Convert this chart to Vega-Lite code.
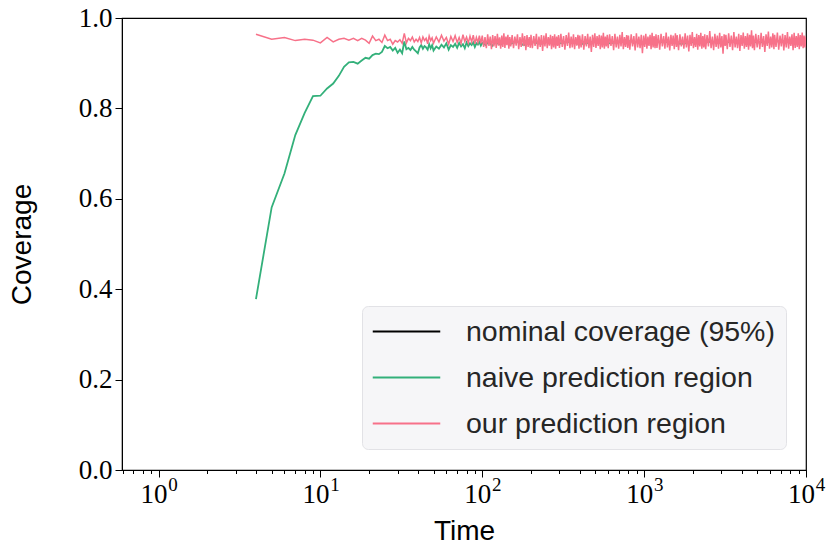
{
  "$schema": "https://vega.github.io/schema/vega-lite/v6.json",
  "width": 684,
  "height": 452,
  "autosize": {"type": "none"},
  "padding": {"left": 122, "top": 18, "right": 24, "bottom": 82},
  "background": "white",
  "config": {
    "view": {"stroke": "#000", "strokeWidth": 1.2},
    "axis": {"grid": false, "domainColor": "#000", "tickColor": "#000", "labelColor": "#000", "titleColor": "#000"}
  },
  "resolve": {"axis": {"x": "independent"}},
  "datasets": {
    "naive": [
      {"t":4,"c":0.378},{"t":5,"c":0.581},{"t":6,"c":0.656},{"t":7,"c":0.741},{"t":8,"c":0.790},{"t":9,"c":0.827},{"t":10,"c":0.828},
      {"t":11,"c":0.844},{"t":12,"c":0.855},{"t":13,"c":0.872},{"t":14,"c":0.892},{"t":15,"c":0.902},{"t":16,"c":0.903},{"t":17,"c":0.899},
      {"t":18,"c":0.906},{"t":19,"c":0.912},{"t":20,"c":0.910},{"t":21,"c":0.918},{"t":22,"c":0.921},{"t":23,"c":0.920},{"t":24,"c":0.925},
      {"t":25,"c":0.938},{"t":26,"c":0.933},{"t":27,"c":0.936},{"t":28,"c":0.928},{"t":29,"c":0.934},{"t":30,"c":0.923},{"t":31,"c":0.930},
      {"t":32,"c":0.922},{"t":33,"c":0.948},{"t":34,"c":0.931},{"t":35,"c":0.934},{"t":36,"c":0.929},{"t":37,"c":0.936},{"t":38,"c":0.930},
      {"t":39,"c":0.926},{"t":40,"c":0.922},{"t":41,"c":0.935},{"t":42,"c":0.940},{"t":43,"c":0.932},{"t":44,"c":0.938},{"t":45,"c":0.935},
      {"t":46,"c":0.930},{"t":47,"c":0.942},{"t":48,"c":0.933},{"t":49,"c":0.940},{"t":50,"c":0.928},{"t":52,"c":0.937},{"t":54,"c":0.932},
      {"t":56,"c":0.941},{"t":58,"c":0.935},{"t":60,"c":0.944},{"t":62,"c":0.930},{"t":64,"c":0.940},{"t":66,"c":0.936},{"t":68,"c":0.943},
      {"t":70,"c":0.934},{"t":72,"c":0.945},{"t":74,"c":0.937},{"t":76,"c":0.942},{"t":78,"c":0.933},{"t":80,"c":0.946},{"t":82,"c":0.938},
      {"t":84,"c":0.944},{"t":86,"c":0.940},{"t":88,"c":0.946},{"t":90,"c":0.936},{"t":92,"c":0.944},{"t":94,"c":0.941},{"t":96,"c":0.947},
      {"t":98,"c":0.939},{"t":100,"c":0.945},{"t":105,"c":0.940},{"t":110,"c":0.948},{"t":115,"c":0.938},{"t":120,"c":0.946},{"t":130,"c":0.941},
      {"t":140,"c":0.950},{"t":150,"c":0.943},{"t":165,"c":0.948},{"t":180,"c":0.940},{"t":200,"c":0.947},{"t":230,"c":0.943},{"t":260,"c":0.949},
      {"t":300,"c":0.944},{"t":350,"c":0.948},{"t":400,"c":0.942},{"t":500,"c":0.947},{"t":600,"c":0.944},{"t":800,"c":0.949},{"t":1000,"c":0.945},
      {"t":1300,"c":0.948},{"t":1700,"c":0.943},{"t":2200,"c":0.949},{"t":3000,"c":0.945},{"t":4000,"c":0.950},{"t":5000,"c":0.946},{"t":7000,"c":0.949},
      {"t":10000,"c":0.947}
    ],
    "ours": [
      {"t":4,"c":0.964},{"t":5,"c":0.953},{"t":6,"c":0.957},{"t":7,"c":0.950},{"t":8,"c":0.953},{"t":9,"c":0.951},{"t":10,"c":0.945},
      {"t":11,"c":0.957},{"t":12,"c":0.947},{"t":13,"c":0.953},{"t":14,"c":0.955},{"t":15,"c":0.951},{"t":16,"c":0.955},{"t":17,"c":0.950},
      {"t":18,"c":0.955},{"t":19,"c":0.951},{"t":20,"c":0.944},{"t":21,"c":0.960},{"t":22,"c":0.950},{"t":23,"c":0.953},{"t":24,"c":0.946},
      {"t":25,"c":0.962},{"t":26,"c":0.950},{"t":27,"c":0.953},{"t":28,"c":0.942},{"t":29,"c":0.950},{"t":30,"c":0.947},{"t":31,"c":0.952},
      {"t":32,"c":0.944},{"t":33,"c":0.966},{"t":34,"c":0.945},{"t":35,"c":0.955},{"t":36,"c":0.950},{"t":37,"c":0.958},{"t":38,"c":0.947},
      {"t":39,"c":0.953},{"t":40,"c":0.948},{"t":41,"c":0.957},{"t":42,"c":0.945},{"t":43,"c":0.958},{"t":44,"c":0.950},{"t":45,"c":0.955},
      {"t":46,"c":0.943},{"t":47,"c":0.960},{"t":48,"c":0.950},{"t":49,"c":0.956},{"t":50,"c":0.944},{"t":52,"c":0.958},{"t":54,"c":0.947},
      {"t":56,"c":0.962},{"t":58,"c":0.949},{"t":60,"c":0.957},{"t":62,"c":0.942},{"t":64,"c":0.959},{"t":66,"c":0.948},{"t":68,"c":0.961},
      {"t":70,"c":0.946},{"t":72,"c":0.957},{"t":74,"c":0.944},{"t":76,"c":0.963},{"t":78,"c":0.948},{"t":80,"c":0.958},{"t":82,"c":0.945},
      {"t":84,"c":0.960},{"t":86,"c":0.947},{"t":88,"c":0.962},{"t":90,"c":0.943},{"t":92,"c":0.957},{"t":94,"c":0.946},{"t":96,"c":0.961},
      {"t":98,"c":0.944},
      {"t":100,"c":0.961},{"t":102,"c":0.936},{"t":104,"c":0.958},{"t":106,"c":0.933},{"t":108,"c":0.964},{"t":110,"c":0.938},{"t":112,"c":0.959},
      {"t":114,"c":0.931},{"t":116,"c":0.962},{"t":118,"c":0.937},{"t":120,"c":0.960},{"t":122,"c":0.934},{"t":124,"c":0.965},{"t":126,"c":0.939},
      {"t":128,"c":0.957},{"t":130,"c":0.932},{"t":132,"c":0.961},{"t":134,"c":0.936},{"t":136,"c":0.966},{"t":138,"c":0.934},{"t":140,"c":0.959},
      {"t":142,"c":0.940},{"t":144,"c":0.963},{"t":146,"c":0.932},{"t":148,"c":0.958},{"t":150,"c":0.937},
      {"t":153,"c":0.962},{"t":156,"c":0.933},{"t":159,"c":0.959},{"t":162,"c":0.939},{"t":165,"c":0.964},{"t":168,"c":0.931},{"t":171,"c":0.958},
      {"t":174,"c":0.936},{"t":177,"c":0.966},{"t":180,"c":0.938},{"t":183,"c":0.960},{"t":186,"c":0.929},{"t":189,"c":0.962},{"t":192,"c":0.936},
      {"t":195,"c":0.958},{"t":198,"c":0.934},
      {"t":200,"c":0.963},{"t":204,"c":0.933},{"t":208,"c":0.960},{"t":212,"c":0.938},{"t":216,"c":0.965},{"t":220,"c":0.931},{"t":224,"c":0.959},
      {"t":228,"c":0.936},{"t":232,"c":0.962},{"t":236,"c":0.927},{"t":240,"c":0.961},{"t":244,"c":0.937},{"t":248,"c":0.966},{"t":252,"c":0.933},
      {"t":256,"c":0.958},{"t":260,"c":0.939},{"t":264,"c":0.963},{"t":268,"c":0.931},{"t":272,"c":0.960},{"t":276,"c":0.935},{"t":280,"c":0.964},
      {"t":284,"c":0.932},{"t":288,"c":0.959},{"t":292,"c":0.938},{"t":296,"c":0.962},
      {"t":300,"c":0.934},{"t":306,"c":0.965},{"t":312,"c":0.936},{"t":318,"c":0.960},{"t":324,"c":0.930},{"t":330,"c":0.962},{"t":336,"c":0.938},
      {"t":342,"c":0.968},{"t":348,"c":0.933},{"t":354,"c":0.959},{"t":360,"c":0.935},{"t":366,"c":0.964},{"t":372,"c":0.931},{"t":378,"c":0.958},
      {"t":384,"c":0.939},{"t":390,"c":0.963},{"t":396,"c":0.932},
      {"t":400,"c":0.961},{"t":408,"c":0.935},{"t":416,"c":0.964},{"t":424,"c":0.930},{"t":432,"c":0.960},{"t":440,"c":0.937},{"t":448,"c":0.965},
      {"t":456,"c":0.933},{"t":464,"c":0.959},{"t":472,"c":0.925},{"t":480,"c":0.963},{"t":488,"c":0.936},{"t":496,"c":0.966},{"t":504,"c":0.934},
      {"t":512,"c":0.960},{"t":520,"c":0.938},{"t":528,"c":0.963},{"t":536,"c":0.931},{"t":544,"c":0.961},{"t":552,"c":0.935},{"t":560,"c":0.967},
      {"t":568,"c":0.932},{"t":576,"c":0.959},{"t":584,"c":0.937},{"t":592,"c":0.963},
      {"t":600,"c":0.933},{"t":612,"c":0.964},{"t":624,"c":0.938},{"t":636,"c":0.960},{"t":648,"c":0.929},{"t":660,"c":0.965},{"t":672,"c":0.935},
      {"t":684,"c":0.959},{"t":696,"c":0.932},{"t":708,"c":0.963},{"t":720,"c":0.937},{"t":732,"c":0.969},{"t":744,"c":0.931},{"t":756,"c":0.958},
      {"t":768,"c":0.936},{"t":780,"c":0.962},{"t":792,"c":0.934},
      {"t":800,"c":0.961},{"t":816,"c":0.930},{"t":832,"c":0.964},{"t":848,"c":0.937},{"t":864,"c":0.960},{"t":880,"c":0.928},{"t":896,"c":0.966},
      {"t":912,"c":0.935},{"t":928,"c":0.959},{"t":944,"c":0.933},{"t":960,"c":0.963},{"t":976,"c":0.922},{"t":992,"c":0.961},{"t":1008,"c":0.936},
      {"t":1024,"c":0.965},{"t":1040,"c":0.932},{"t":1056,"c":0.959},{"t":1072,"c":0.938},{"t":1088,"c":0.963},{"t":1104,"c":0.931},{"t":1120,"c":0.967},
      {"t":1136,"c":0.935},{"t":1152,"c":0.960},{"t":1168,"c":0.933},{"t":1184,"c":0.964},
      {"t":1200,"c":0.934},{"t":1224,"c":0.962},{"t":1248,"c":0.930},{"t":1272,"c":0.965},{"t":1296,"c":0.937},{"t":1320,"c":0.960},{"t":1344,"c":0.932},
      {"t":1368,"c":0.968},{"t":1392,"c":0.935},{"t":1416,"c":0.959},{"t":1440,"c":0.928},{"t":1464,"c":0.963},{"t":1488,"c":0.938},{"t":1512,"c":0.961},
      {"t":1536,"c":0.931},{"t":1560,"c":0.966},{"t":1584,"c":0.936},
      {"t":1600,"c":0.962},{"t":1632,"c":0.929},{"t":1664,"c":0.964},{"t":1696,"c":0.937},{"t":1728,"c":0.959},{"t":1760,"c":0.932},{"t":1792,"c":0.966},
      {"t":1824,"c":0.935},{"t":1856,"c":0.961},{"t":1888,"c":0.926},{"t":1920,"c":0.963},{"t":1952,"c":0.938},{"t":1984,"c":0.969},{"t":2016,"c":0.933},
      {"t":2048,"c":0.958},{"t":2080,"c":0.936},{"t":2112,"c":0.965},{"t":2144,"c":0.930},{"t":2176,"c":0.962},{"t":2208,"c":0.937},{"t":2240,"c":0.967},
      {"t":2272,"c":0.932},{"t":2304,"c":0.960},{"t":2336,"c":0.935},{"t":2368,"c":0.964},
      {"t":2400,"c":0.931},{"t":2448,"c":0.962},{"t":2496,"c":0.937},{"t":2544,"c":0.971},{"t":2592,"c":0.933},{"t":2640,"c":0.959},{"t":2688,"c":0.929},
      {"t":2736,"c":0.965},{"t":2784,"c":0.936},{"t":2832,"c":0.961},{"t":2880,"c":0.932},{"t":2928,"c":0.967},{"t":2976,"c":0.935},{"t":3024,"c":0.960},
      {"t":3072,"c":0.921},{"t":3120,"c":0.964},{"t":3168,"c":0.938},
      {"t":3200,"c":0.963},{"t":3264,"c":0.931},{"t":3328,"c":0.966},{"t":3392,"c":0.936},{"t":3456,"c":0.961},{"t":3520,"c":0.929},{"t":3584,"c":0.969},
      {"t":3648,"c":0.935},{"t":3712,"c":0.959},{"t":3776,"c":0.933},{"t":3840,"c":0.965},{"t":3904,"c":0.927},{"t":3968,"c":0.962},{"t":4032,"c":0.938},
      {"t":4096,"c":0.968},{"t":4160,"c":0.932},{"t":4224,"c":0.960},{"t":4288,"c":0.936},{"t":4352,"c":0.966},{"t":4416,"c":0.930},{"t":4480,"c":0.963},
      {"t":4544,"c":0.937},{"t":4608,"c":0.973},{"t":4672,"c":0.933},{"t":4736,"c":0.961},
      {"t":4800,"c":0.929},{"t":4896,"c":0.965},{"t":4992,"c":0.935},{"t":5088,"c":0.962},{"t":5184,"c":0.931},{"t":5280,"c":0.967},{"t":5376,"c":0.936},
      {"t":5472,"c":0.960},{"t":5568,"c":0.925},{"t":5664,"c":0.964},{"t":5760,"c":0.938},{"t":5856,"c":0.970},{"t":5952,"c":0.932},{"t":6048,"c":0.959},
      {"t":6144,"c":0.935},{"t":6240,"c":0.966},{"t":6336,"c":0.931},
      {"t":6400,"c":0.963},{"t":6528,"c":0.936},{"t":6656,"c":0.968},{"t":6784,"c":0.930},{"t":6912,"c":0.961},{"t":7040,"c":0.937},{"t":7168,"c":0.965},
      {"t":7296,"c":0.928},{"t":7424,"c":0.962},{"t":7552,"c":0.935},{"t":7680,"c":0.969},{"t":7808,"c":0.932},{"t":7936,"c":0.959},{"t":8064,"c":0.938},
      {"t":8192,"c":0.964},{"t":8320,"c":0.929},{"t":8448,"c":0.967},{"t":8576,"c":0.934},{"t":8704,"c":0.960},{"t":8832,"c":0.936},{"t":8960,"c":0.966},
      {"t":9088,"c":0.931},{"t":9216,"c":0.962},{"t":9344,"c":0.937},{"t":9472,"c":0.968},{"t":9600,"c":0.933},{"t":9728,"c":0.961},{"t":9856,"c":0.935},
      {"t":10000,"c":0.959}
    ]
  },
  "layer": [
    {
      "mark": {"type": "rule", "strokeWidth": 2},
      "encoding": {
        "y": {"datum": 0.95, "type": "quantitative"},
        "color": {"datum": "nominal coverage (95%)"}
      }
    },
    {
      "data": {"name": "naive"},
      "mark": {"type": "line", "strokeWidth": 1.8, "clip": true},
      "encoding": {
        "x": {
          "field": "t", "type": "quantitative",
          "scale": {"type": "log", "domain": [0.595, 10000], "nice": false, "zero": false},
          "axis": {
            "orient": "bottom",
            "title": "Time",
            "titleFont": "Liberation Sans", "titleFontSize": 28, "titleFontWeight": "normal", "titlePadding": 10,
            "values": [0.6,0.7,0.8,0.9,1,2,3,4,5,6,7,8,9,10,20,30,40,50,60,70,80,90,100,200,300,400,500,600,700,800,900,1000,2000,3000,4000,5000,6000,7000,8000,9000,10000],
            "labelExpr": "(datum.value == 1 || datum.value == 10 || datum.value == 100 || datum.value == 1000 || datum.value == 10000) ? '10' : ''",
            "labelFont": "Liberation Serif", "labelFontSize": 27, "labelOverlap": false, "labelPadding": 4,
            "labelFlush": false, "labelOffset": -5,
            "tickSize": {"condition": {"test": "datum.value == 1 || datum.value == 10 || datum.value == 100 || datum.value == 1000 || datum.value == 10000", "value": 7}, "value": 3.5},
            "tickWidth": 1
          }
        },
        "y": {
          "field": "c", "type": "quantitative",
          "scale": {"domain": [0, 1], "nice": false, "zero": false},
          "axis": {
            "title": "Coverage",
            "titleFont": "Liberation Sans", "titleFontSize": 28, "titleFontWeight": "normal", "titlePadding": 42,
            "values": [0, 0.2, 0.4, 0.6, 0.8, 1.0], "format": ".1f",
            "labelFont": "Liberation Serif", "labelFontSize": 27, "labelPadding": 3,
            "tickSize": 7, "tickWidth": 1
          }
        },
        "color": {"datum": "naive prediction region"}
      }
    },
    {
      "data": {"name": "ours"},
      "mark": {"type": "line", "strokeWidth": 1.5, "clip": true},
      "encoding": {
        "x": {
          "field": "t", "type": "quantitative",
          "axis": {
            "orient": "bottom", "title": null, "domain": false, "ticks": false, "grid": false,
            "values": [1, 10, 100, 1000, 10000],
            "labelExpr": "datum.value == 1 ? '0' : datum.value == 10 ? '1' : datum.value == 100 ? '2' : datum.value == 1000 ? '3' : '4'",
            "labelFont": "Liberation Serif", "labelFontSize": 19, "labelOverlap": false, "labelFlush": false,
            "labelOffset": 14, "labelPadding": 5
          }
        },
        "y": {"field": "c", "type": "quantitative"},
        "color": {
          "datum": "our prediction region",
          "scale": {
            "domain": ["nominal coverage (95%)", "naive prediction region", "our prediction region"],
            "range": ["#000000", "#33b07a", "#f77189"]
          },
          "legend": {
            "title": null,
            "orient": "none", "legendX": 240, "legendY": 288,
            "symbolType": "M-2.5,0L2.5,0", "symbolSize": 729, "symbolStrokeWidth": 2, "symbolOffset": 19,
            "labelFont": "Liberation Sans", "labelFontSize": 28.5, "labelColor": "#262626", "labelOffset": 45, "labelLimit": 0,
            "rowPadding": 17, "padding": 11,
            "fillColor": "#f6f6f8", "strokeColor": "#e2e2e6", "cornerRadius": 6
          }
        }
      }
    }
  ]
}
